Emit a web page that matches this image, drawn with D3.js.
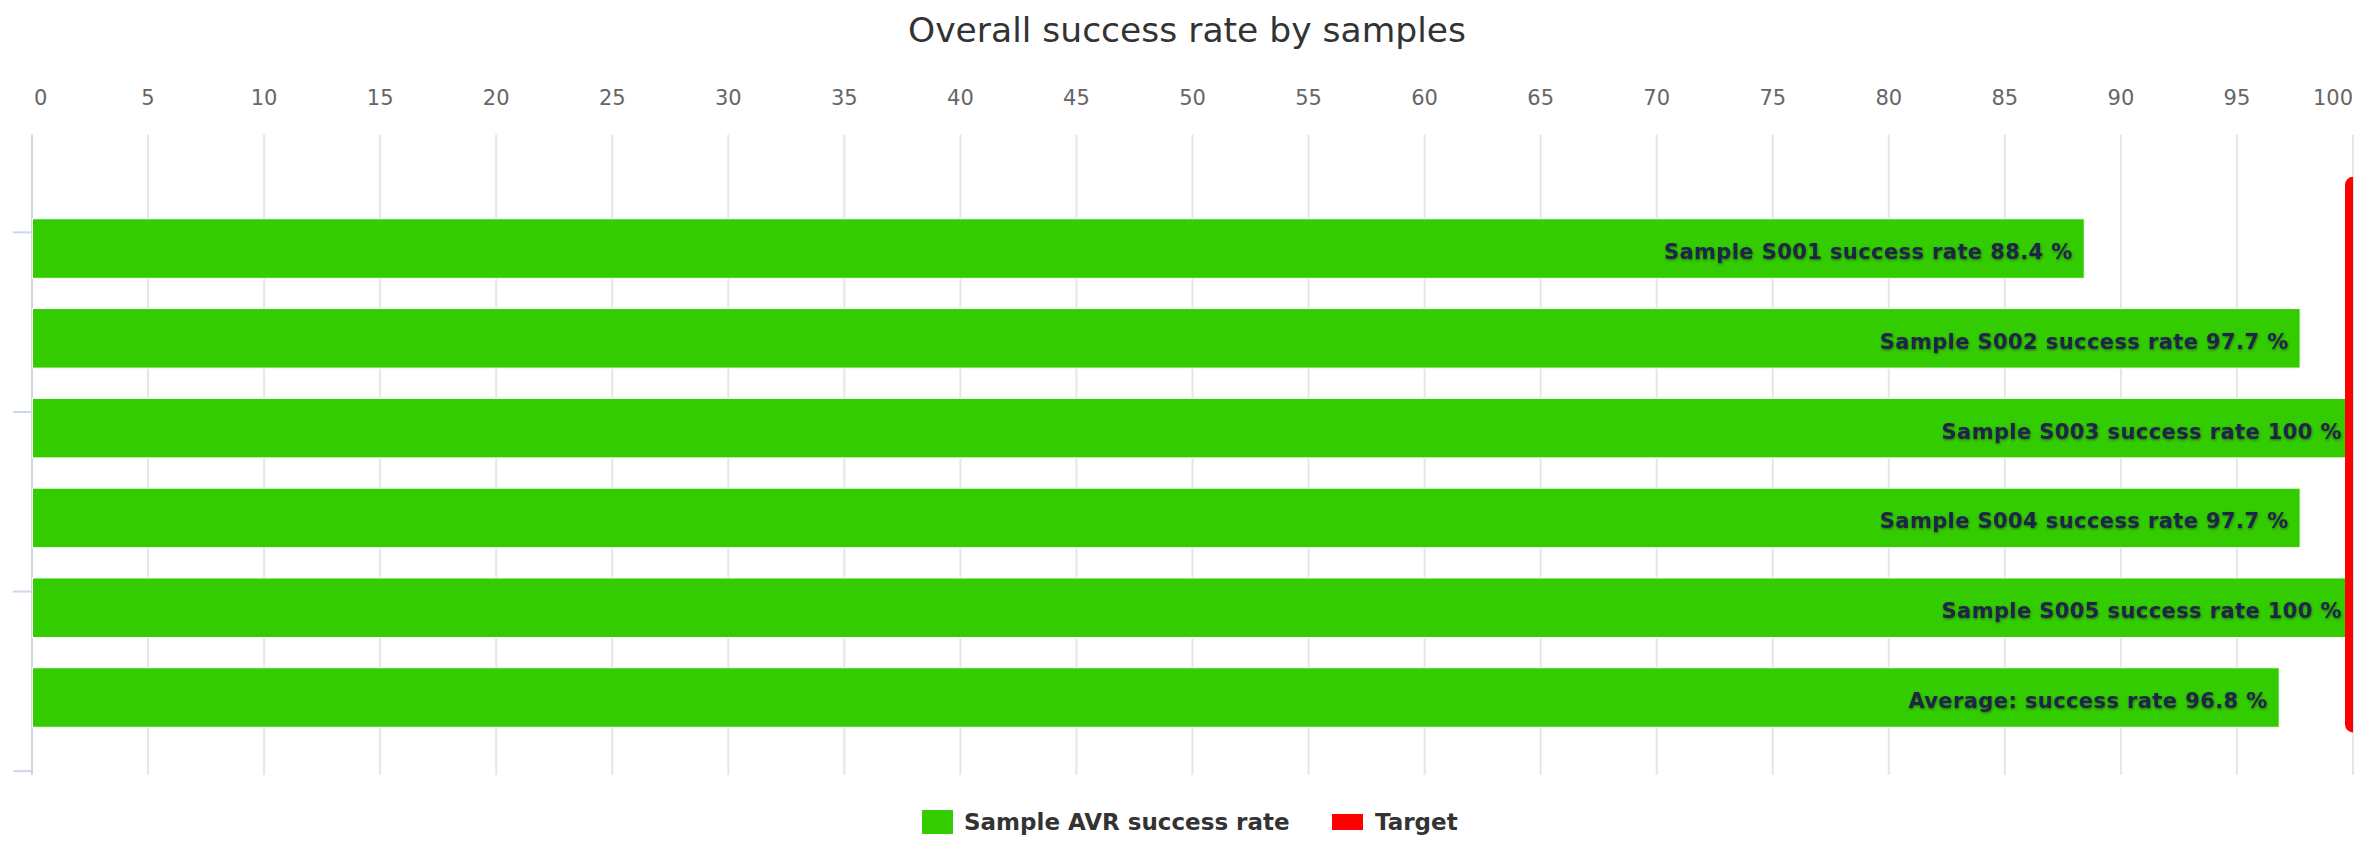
<!DOCTYPE html>
<html>
<head>
<meta charset="utf-8">
<script src="https://cdn.jsdelivr.net/npm/d3@7"></script>
<style>
  body { margin: 0; background: #fff; }
  svg { display: block; font-family: "DejaVu Sans", sans-serif; }
</style>
</head>
<body>
<svg id="chart" width="2374" height="844"></svg>
<script>
// data
const categories = ["Sample S001", "Sample S002", "Sample S003", "Sample S004", "Sample S005", "Average:"];
const successRate = [88.4, 97.7, 100, 97.7, 100, 96.8];
const xTicks = [0, 5, 10, 15, 20, 25, 30, 35, 40, 45, 50, 55, 60, 65, 70, 75, 80, 85, 90, 95, 100];
const yTicks = [-0.18, 1.82, 3.82, 5.82];
const targetValue = 100;
const targetSpan = [-0.71, 5.3];
const legendItems = ["Sample AVR success rate", "Target"];

const data = categories.map((c, i) => ({ cat: c, idx: i, value: successRate[i] }));

const svg = d3.select("#chart");
const plot = { left: 32, right: 2353, top: 134.5, bottom: 775 };

const x = d3.scaleLinear().domain([0, 100]).range([plot.left, plot.right]);
const y = d3.scaleLinear().domain([-1.27, 5.863]).range([plot.top, plot.bottom]);
const barH = (y(1) - y(0)) * 0.663;

const defs = svg.append("defs");
defs.append("clipPath").attr("id", "plotClip")
  .append("rect")
  .attr("x", plot.left).attr("y", plot.top)
  .attr("width", plot.right - plot.left).attr("height", plot.bottom - plot.top);
const shadow = defs.append("filter").attr("id", "lblShadow")
  .attr("x", "-5%").attr("y", "-30%").attr("width", "110%").attr("height", "160%");
shadow.append("feDropShadow")
  .attr("dx", 0.5).attr("dy", 1.2).attr("stdDeviation", 1)
  .attr("flood-color", "#222").attr("flood-opacity", 0.55);

// title
svg.append("text")
  .attr("x", 1187).attr("y", 42)
  .attr("text-anchor", "middle")
  .style("font-size", "34.5px")
  .style("fill", "#333333")
  .text("Overall success rate by samples");

// vertical grid
svg.append("g").selectAll("line")
  .data(xTicks.slice(1))
  .enter().append("line")
    .attr("x1", d => x(d)).attr("x2", d => x(d))
    .attr("y1", plot.top).attr("y2", plot.bottom)
    .attr("stroke", "#e6e6e6").attr("stroke-width", 2);

// top axis labels
svg.append("g").selectAll("text")
  .data(xTicks)
  .enter().append("text")
    .attr("x", (d, i) => i === 0 ? x(d) + 2 : x(d))
    .attr("y", 105)
    .attr("text-anchor", (d, i) => i === 0 ? "start" : (i === xTicks.length - 1 ? "end" : "middle"))
    .style("font-size", "21px")
    .style("fill", "#666666")
    .text(d => d);

// left axis
const axisG = svg.append("g");
axisG.append("line")
  .attr("x1", plot.left).attr("x2", plot.left)
  .attr("y1", plot.top).attr("y2", plot.bottom)
  .attr("stroke", "#ccd6eb").attr("stroke-width", 2);
axisG.selectAll("line.tick")
  .data(yTicks)
  .enter().append("line")
    .attr("class", "tick")
    .attr("x1", plot.left - 19).attr("x2", plot.left)
    .attr("y1", d => y(d)).attr("y2", d => y(d))
    .attr("stroke", "#ccd6eb").attr("stroke-width", 2);

// bars
const plotG = svg.append("g").attr("clip-path", "url(#plotClip)");
plotG.selectAll("rect.bar")
  .data(data)
  .enter().append("rect")
    .attr("class", "bar")
    .attr("x", x(0) + 0.5)
    .attr("y", d => y(d.idx) - barH / 2)
    .attr("width", d => x(d.value) - x(0))
    .attr("height", barH)
    .attr("fill", "#33cc00")
    .attr("stroke", "#ffffff")
    .attr("stroke-width", 1);

// target line
plotG.append("line")
  .attr("x1", x(targetValue)).attr("x2", x(targetValue))
  .attr("y1", y(targetSpan[0])).attr("y2", y(targetSpan[1]))
  .attr("stroke", "#ff0000")
  .attr("stroke-width", 16)
  .attr("stroke-linecap", "round");

// data labels
svg.append("g").selectAll("text")
  .data(data)
  .enter().append("text")
    .attr("x", d => x(d.value) - 11)
    .attr("y", d => y(d.idx) + 10.5)
    .attr("text-anchor", "end")
    .attr("filter", "url(#lblShadow)")
    .style("font-size", "21px")
    .style("font-weight", "bold")
    .style("letter-spacing", "0.4px")
    .style("fill", "#1c2847")
    .text(d => `${d.cat} success rate ${d.value} %`);

// legend
const legend = svg.append("g").style("font-size", "23px").style("font-weight", "bold");
legend.append("rect")
  .attr("x", 922).attr("y", 810).attr("width", 31).attr("height", 24)
  .attr("fill", "#33cc00");
legend.append("text")
  .attr("x", 964).attr("y", 830).style("fill", "#333333")
  .text(legendItems[0]);
legend.append("line")
  .attr("x1", 1332).attr("x2", 1363).attr("y1", 822).attr("y2", 822)
  .attr("stroke", "#ff0000").attr("stroke-width", 16);
legend.append("text")
  .attr("x", 1375).attr("y", 830).style("fill", "#333333")
  .text(legendItems[1]);
</script>
</body>
</html>
